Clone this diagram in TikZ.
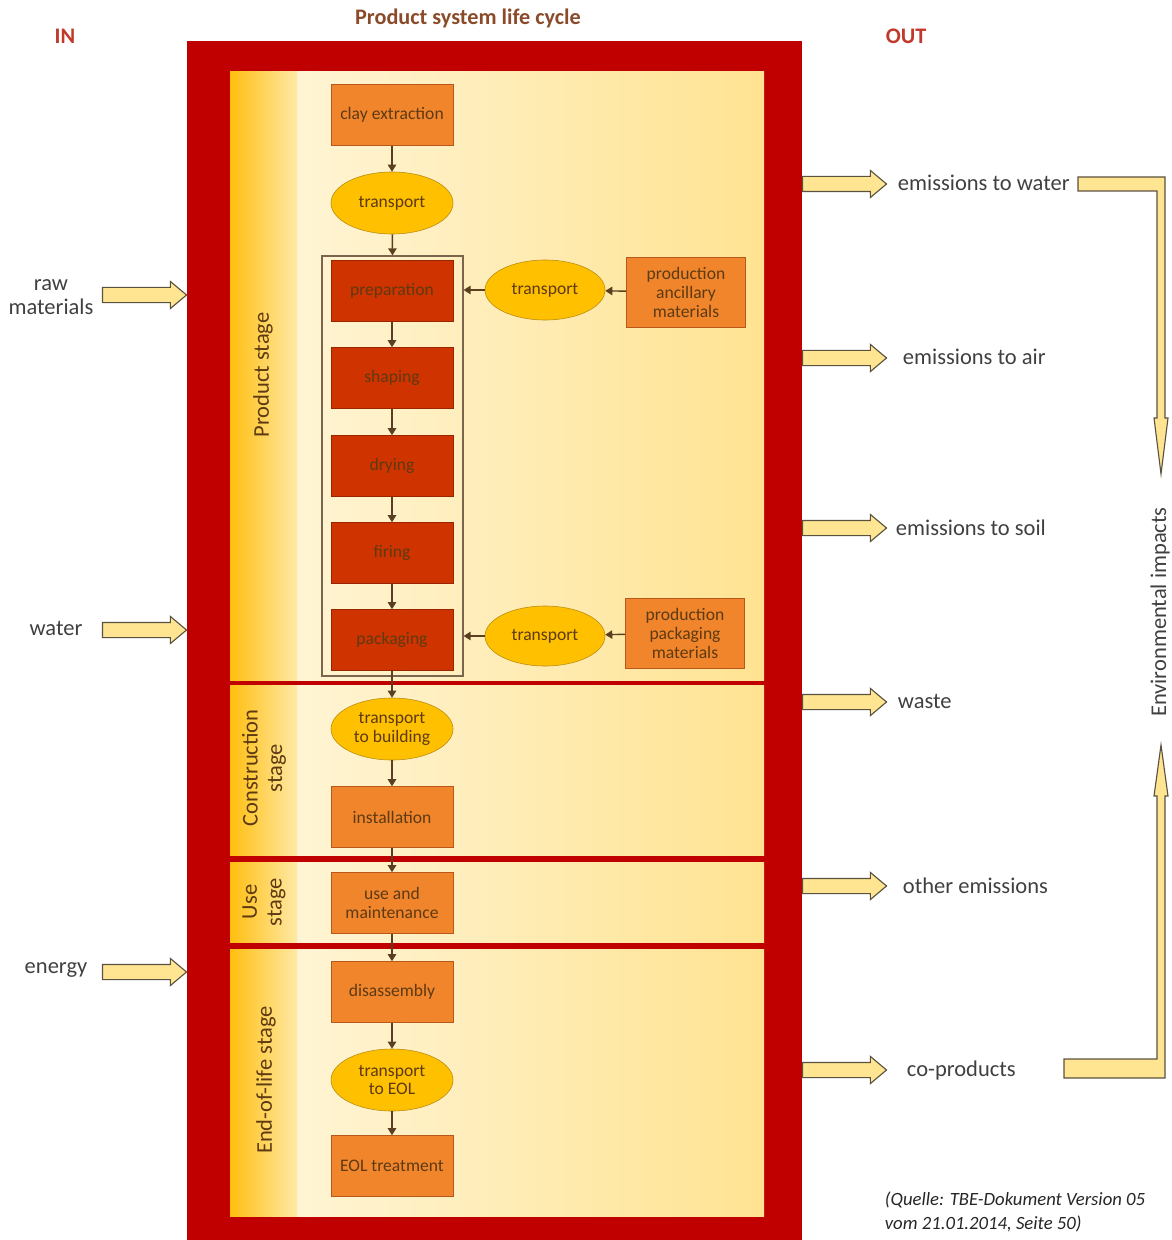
\documentclass[tikz,border=0pt]{standalone}
\usepackage{fontspec}
\setmainfont{Carlito}
\usepackage{xcolor}
\usepackage{tikz}
\usetikzlibrary{shapes.geometric, shapes.arrows, arrows.meta, positioning}

\definecolor{framered}{HTML}{C00000}
\definecolor{panelA}{HTML}{FFF7DE}
\definecolor{panelB}{HTML}{FFE392}
\definecolor{stageA}{HTML}{FFBF10}
\definecolor{stageB}{HTML}{FFE9A6}
\definecolor{boxorange}{HTML}{F0852C}
\definecolor{boxedge}{HTML}{B8581A}
\definecolor{boxred}{HTML}{CE3300}
\definecolor{rededge}{HTML}{992600}
\definecolor{ovalfill}{HTML}{FFC000}
\definecolor{ovaledge}{HTML}{B88A10}
\definecolor{inktext}{HTML}{5E3A12}
\definecolor{linebrown}{HTML}{5A4020}
\definecolor{fatfill}{HTML}{FFE491}
\definecolor{fatedge}{HTML}{5A5240}
\definecolor{titlebrown}{HTML}{8A4B2A}
\definecolor{inoutred}{HTML}{C0392B}
\definecolor{labelgray}{HTML}{404040}

\begin{document}
\begin{tikzpicture}[
    x=0.025cm, y=-0.025cm,
    stepbox/.style={rectangle, draw=boxedge, fill=boxorange, minimum width=3.05cm, minimum height=1.525cm, text=inktext, font=\fontsize{12.5}{13.5}\selectfont, align=center, inner sep=1pt},
    procbox/.style={stepbox, fill=boxred, draw=rededge},
    oval/.style={ellipse, draw=ovaledge, fill=ovalfill, minimum width=3.05cm, minimum height=1.55cm, text=inktext, font=\fontsize{12.5}{13.5}\selectfont, align=center, inner sep=0pt},
    sidebox/.style={stepbox, minimum width=2.975cm, minimum height=1.75cm},
    flow/.style={draw=linebrown, line width=1pt, -{Triangle[length=5pt,width=6pt]}},
    fatarrow/.style={single arrow, draw=fatedge, fill=fatfill, line width=0.8pt, inner xsep=0pt, inner ysep=0.175cm, minimum height=2.1cm, single arrow head extend=0.15cm, single arrow tip angle=80},
    panel/.style={left color=panelA, right color=panelB},
    stagecol/.style={left color=stageA, right color=stageB},
    stagetext/.style={rotate=90, text=inktext, font=\fontsize{16}{17.5}\selectfont, align=center},
    iotext/.style={text=labelgray, font=\fontsize{16}{17.5}\selectfont, align=center}
]
\useasboundingbox (0,0) rectangle (1171,1240);

% Frame and stage panels
\fill[framered] (187,41) rectangle (802,1240);
\fill[panel] (230,72) rectangle (764,680);
\fill[panel] (230,685) rectangle (764,855);
\fill[panel] (230,862) rectangle (764,942);
\fill[panel] (230,949) rectangle (764,1216);
\fill[stagecol] (230,72) rectangle (297,680);
\fill[stagecol] (230,685) rectangle (297,855);
\fill[stagecol] (230,862) rectangle (297,942);
\fill[stagecol] (230,949) rectangle (297,1216);

% Headings
\node[text=titlebrown, font=\bfseries\fontsize{15.8}{17}\selectfont] (title) at (468,18) {Product system life cycle};
\node[text=inoutred, font=\bfseries\fontsize{15.8}{17}\selectfont] (in) at (65,36) {IN};
\node[text=inoutred, font=\bfseries\fontsize{15.8}{17}\selectfont] (out) at (906,36) {OUT};

% Stage labels
\node[stagetext] (lprod) at (263,375) {Product stage};
\node[stagetext] (lcons) at (264,768) {Construction\\stage};
\node[stagetext] (luse) at (264,902) {Use\\stage};
\node[stagetext] (leol) at (266,1080) {End-of-life stage};

% Process chain
\node[draw=linebrown!80, line width=0.8pt, minimum width=3.525cm, minimum height=10.5cm, inner sep=0pt] (bracket) at (392.5,466) {};
\node[stepbox] (clay) at (392,115) {clay extraction};
\node[oval] (tr0) at (392,203) {transport};
\node[procbox] (prep) at (392,291) {preparation};
\node[procbox] (shap) at (392,378) {shaping};
\node[procbox] (dry) at (392,466) {drying};
\node[procbox] (fire) at (392,553) {firing};
\node[procbox] (pack) at (392,640) {packaging};
\node[oval, minimum width=3cm, minimum height=1.5cm] (tr1) at (545,290) {transport};
\node[sidebox] (anc) at (686,292) {production\\ancillary\\materials};
\node[oval, minimum width=3cm, minimum height=1.5cm] (tr2) at (545,636) {transport};
\node[sidebox] (packmat) at (685,633) {production\\packaging\\materials};
\node[oval] (tb) at (392,729) {transport\\to building};
\node[stepbox] (inst) at (392,817) {installation};
\node[stepbox] (use) at (392,903) {use and\\maintenance};
\node[stepbox] (dis) at (392,992) {disassembly};
\node[oval] (teol) at (392,1080) {transport\\to EOL};
\node[stepbox] (eol) at (392,1166) {EOL treatment};

% Arrows
\draw[flow] (clay) -- (tr0);
\draw[flow] (tr0) -- (bracket.north);
\draw[flow] (prep) -- (shap);
\draw[flow] (shap) -- (dry);
\draw[flow] (dry) -- (fire);
\draw[flow] (fire) -- (pack);
\draw[flow] (anc) -- (tr1);
\draw[flow] (tr1) -- (tr1.west -| bracket.east);
\draw[flow] (packmat) -- (tr2);
\draw[flow] (tr2) -- (tr2.west -| bracket.east);
\draw[flow] (pack) -- (tb);
\draw[flow] (tb) -- (inst);
\draw[flow] (inst) -- (use);
\draw[flow] (use) -- (dis);
\draw[flow] (dis) -- (teol);
\draw[flow] (teol) -- (eol);

% Inputs
\node[iotext] (raw) at (51,297) {raw\\materials};
\node[iotext] (water) at (56,628) {water};
\node[iotext] (energy) at (56,970) {energy};
\node[fatarrow] (araw) at (140,295) {};
\node[fatarrow] (awater) at (140,630) {};
\node[fatarrow] (aenergy) at (140,972) {};

% Outputs
\node[fatarrow] (ow) at (840,184) {};
\node[fatarrow] (oa) at (840,358) {};
\node[fatarrow] (os) at (840,528) {};
\node[fatarrow] (owa) at (840,702) {};
\node[fatarrow] (oo) at (840,886) {};
\node[fatarrow] (oc) at (840,1070) {};
\node[iotext, anchor=west] (tw) at (893,183) {emissions to water};
\node[iotext, anchor=west] (ta) at (898,357) {emissions to air};
\node[iotext, anchor=west] (ts) at (891,528) {emissions to soil};
\node[iotext, anchor=west] (twa) at (893,701) {waste};
\node[iotext, anchor=west] (to) at (898,886) {other emissions};
\node[iotext, anchor=west] (tc) at (902,1070) {co-products};

% Environmental impacts
\filldraw[fill=fatfill, draw=fatedge, line width=0.8pt] (1078,177) -- (1165,177) -- (1165,418) -- (1168,418) -- (1161,474) -- (1154,418) -- (1157,418) -- (1157,191) -- (1078,191) -- cycle;
\filldraw[fill=fatfill, draw=fatedge, line width=0.8pt] (1064,1059) -- (1157,1059) -- (1157,796) -- (1154,796) -- (1161,745) -- (1168,796) -- (1165,796) -- (1165,1078) -- (1064,1078) -- cycle;
\node[iotext, rotate=90] (env) at (1160,612) {Environmental impacts};

% Source
\node[anchor=north west, align=left, text=black!85, font=\itshape\fontsize{13.3}{17}\selectfont] (src) at (880,1187) {(Quelle: TBE-Dokument Version 05\\vom 21.01.2014, Seite 50)};

\end{tikzpicture}
\end{document}
